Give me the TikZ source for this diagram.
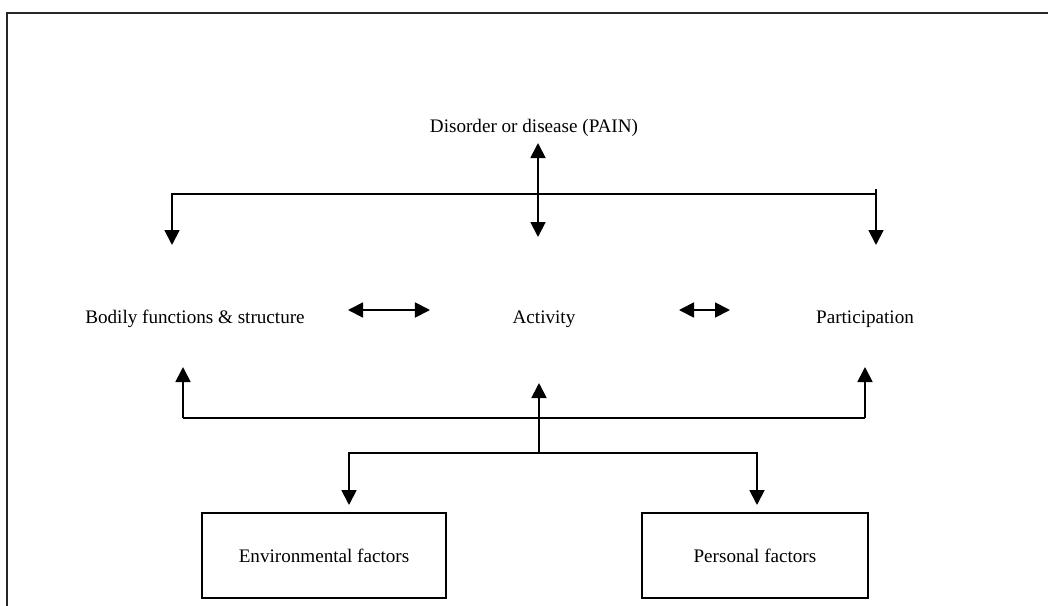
\documentclass[tikz,border=0pt]{standalone}
\usepackage{fontspec}
\setmainfont{Liberation Serif}
\usetikzlibrary{arrows.meta, positioning}

\begin{document}
\begin{tikzpicture}[
    x=0.025cm, y=-0.025cm,
    lbl/.style={font=\fontsize{13.6}{16}\selectfont, inner sep=0pt},
    factor/.style={rectangle, draw=black, line width=1.3pt, inner sep=0pt,
                   minimum height=2.125cm, font=\fontsize{13.6}{16}\selectfont},
    line/.style={line width=1.3pt},
    arrow/.style={-{Triangle[length=0.375cm, width=0.375cm]}, line width=1.3pt},
    dblarrow/.style={{Triangle[length=0.375cm, width=0.375cm]}-{Triangle[length=0.375cm, width=0.375cm]},
                     line width=1.3pt}
]
    \clip (0,0) rectangle (1048,606);
    \draw[line width=1.7pt, black!85] (7,13) rectangle (1070,630);

    % the three levels
    \node[lbl] (pain) at (534,128) {Disorder or disease (PAIN)};
    \node[lbl] (body) at (195,319) {Bodily functions \& structure};
    \node[lbl] (act)  at (544,319) {Activity};
    \node[lbl] (part) at (865,319) {Participation};

    \node[factor, minimum width=6.1cm] (env) at (324,555.5) {Environmental factors};
    \node[factor, minimum width=5.65cm] (pers) [right=4.85cm of env] {Personal factors};

    % junctions and free ends
    \coordinate (painTip) at (538,143);
    \coordinate (actTop)  at (538,237);
    \coordinate (barL)    at (172,194);
    \coordinate (barR)    at (876,189);
    \coordinate (bodyIn)  at (172,245);
    \coordinate (partIn)  at (876,245);
    \coordinate (bodyR)   at (348,310);
    \coordinate (actL)    at (430,310);
    \coordinate (actR)    at (679,310);
    \coordinate (partL)   at (730,310);
    \coordinate (lowL)    at (183,418);
    \coordinate (lowR)    at (865,418);
    \coordinate (bodyUp)  at (183,367);
    \coordinate (partUp)  at (865,367);
    \coordinate (actUp)   at (539,383);
    \coordinate (hubB)    at (539,453);
    \coordinate (envIn)   at (349,505);
    \coordinate (persIn)  at (757,505);

    \draw[dblarrow] (painTip) -- (actTop);
    \draw[arrow] (barL -| barR) -- (barL) -- (bodyIn);
    \draw[arrow] (barR) -- (partIn);

    \draw[dblarrow] (bodyR) -- (actL);
    \draw[dblarrow] (actR) -- (partL);

    \draw[line] (lowL) -- (lowR);
    \draw[arrow] (lowL) -- (bodyUp);
    \draw[arrow] (lowR) -- (partUp);
    \draw[arrow] (hubB) -- (actUp);
    \draw[arrow] (hubB) -| (envIn);
    \draw[arrow] (hubB) -| (persIn);
\end{tikzpicture}
\end{document}
